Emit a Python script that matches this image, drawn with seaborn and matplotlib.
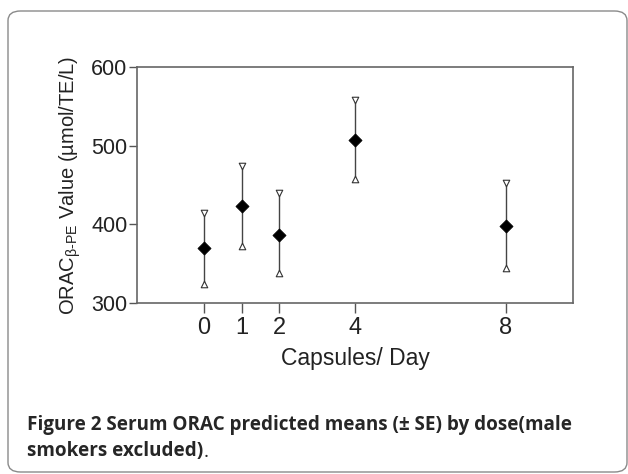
import numpy as np
import pandas as pd
import matplotlib
matplotlib.use("Agg")
import matplotlib.pyplot as plt
from matplotlib.patches import FancyBboxPatch
import seaborn as sns

# --- DATA ---
doses = [0, 1, 2, 4, 8]
means = [370, 423, 387, 507, 398]
upper = [415, 474, 440, 558, 452]   # mean + SE
lower = [324, 372, 338, 457, 345]   # mean - SE
y_ticks = [300, 400, 500, 600]

df = pd.DataFrame({'dose': doses, 'mean': means, 'upper': upper, 'lower': lower})

# --- STYLE ---
sns.set_theme(style="ticks")
plt.rcParams['font.family'] = ['Liberation Sans', 'DejaVu Sans']
plt.rcParams['mathtext.fontset'] = 'custom'
plt.rcParams['mathtext.rm'] = 'Liberation Sans'

fig = plt.figure(figsize=(6.28, 4.74), dpi=100)
W, H = 628, 474

# outer rounded frame
frame = FancyBboxPatch((8 / W, 2 / H), 619 / W, 461 / H,
                       boxstyle="round,pad=0,rounding_size=0.02",
                       transform=fig.transFigure, facecolor='none',
                       edgecolor='#8a8a8a', linewidth=1.0, zorder=-1)
fig.patches.append(frame)

ax = fig.add_axes([137 / W, 1 - 303 / H, (573 - 137) / W, (303 - 67) / H])
ax.set_facecolor('none')

# error bars
ax.vlines(df['dose'], df['lower'], df['upper'], color='#444444', linewidth=1.0, zorder=2)
sns.scatterplot(data=df, x='dose', y='upper', marker='v', s=22, color='white',
                edgecolor='#333333', linewidth=0.8, ax=ax, zorder=3)
sns.scatterplot(data=df, x='dose', y='lower', marker='^', s=22, color='white',
                edgecolor='#333333', linewidth=0.8, ax=ax, zorder=3)
sns.scatterplot(data=df, x='dose', y='mean', marker='D', s=45, color='black',
                edgecolor='black', linewidth=0.5, ax=ax, zorder=4)

ax.set_xlim(-1.78, 9.79)
ax.set_ylim(300, 600)
ax.set_xticks(doses)
ax.set_yticks(y_ticks)
ax.tick_params(axis='y', labelsize=15.5, length=6, width=1.0, color='#555555', pad=1)
ax.tick_params(axis='x', labelsize=17, length=7, width=1.0, color='#555555', pad=3)
for s in ax.spines.values():
    s.set_color('#666666')
    s.set_linewidth(1.2)

ax.set_xlabel('Capsules/ Day', fontsize=16.5, color='#222222', labelpad=6)
ax.set_ylabel(r'ORAC$_{\text{β-PE}}$ Value (µmol/TE/L)', fontsize=14.5,
              color='#222222', labelpad=6)
for lab in ax.get_xticklabels() + ax.get_yticklabels():
    lab.set_color('#222222')

# caption
cap_font = ['Open Sans', 'DejaVu Sans']
fig.text(27 / W, 1 - 425 / H, 'Figure 2 Serum ORAC predicted means (± SE) by dose(male',
         fontsize=13.6, fontweight='bold', family=cap_font, va='center', ha='left')
t2 = fig.text(27 / W, 1 - 451 / H, 'smokers excluded)',
              fontsize=13.6, fontweight='bold', family=cap_font, va='center', ha='left')
ax.annotate('.', xy=(1, 0), xycoords=t2, fontsize=13.6, family=cap_font,
            va='bottom', ha='left', annotation_clip=False)

plt.savefig('out.png', dpi=100)
plt.close()
